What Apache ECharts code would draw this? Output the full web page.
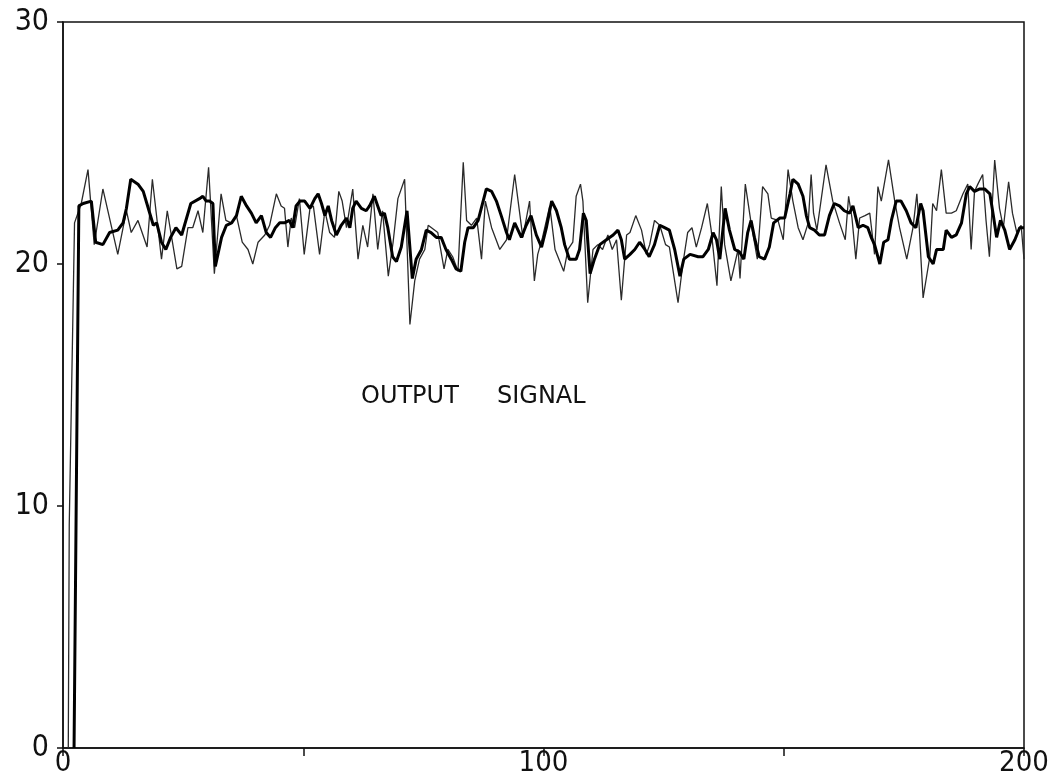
<!DOCTYPE html>
<html>
<head>
<meta charset="utf-8">
<title>Output signal</title>
<script src="https://cdn.jsdelivr.net/npm/echarts@6.0.0/dist/echarts.min.js"></script>
<style>
  html, body { margin: 0; padding: 0; background: #fff; }
  #chart { width: 1063px; height: 774px; }
</style>
</head>
<body>
<div id="chart"></div>
<script>
// thin (noisy) trace
const thinX = [1.1, 1.3, 2.4, 3.8, 5.2, 6.5, 8.3, 11.4, 13.2, 14.2, 15.6, 17.5, 18.6, 20.5, 21.7, 23.7, 24.7, 26.0, 27.0, 28.1, 29.1,
  30.3, 31.5, 32.9, 33.9, 35.0, 36.1, 37.3, 38.5, 39.5, 40.6, 42.0, 43.0, 44.4, 45.4, 46.1, 46.8, 47.5, 48.2, 49.2, 50.2,
  51.4, 52.1, 53.4, 54.5, 55.5, 56.5, 57.4, 58.1, 59.0, 60.3, 61.4, 62.4, 63.4, 64.5, 65.5, 66.5, 67.7, 68.7, 69.7, 71.1,
  72.2, 73.2, 74.2, 75.3, 76.0, 78.0, 79.3, 80.1, 81.1, 82.2, 83.3, 84.0, 85.0, 86.1, 87.1, 87.9, 89.2, 90.9, 92.3, 94.0,
  95.7, 97.1, 98.1, 98.8, 99.8, 101.3, 102.4, 104.2, 105.1, 106.1, 106.8, 107.7, 108.2, 109.2, 110.3, 111.3, 112.3, 113.4, 114.3, 115.2,
  116.2, 117.3, 118.0, 119.2, 120.4, 121.4, 122.1, 123.1, 124.2, 125.4, 126.2, 128.0, 129.0, 130.0, 130.9, 131.8, 132.9, 134.1, 134.9, 136.1,
  137.0, 137.7, 139.0, 140.5, 140.9, 142.0, 143.2, 144.5, 145.6, 146.7, 147.4, 148.8, 149.9, 150.9, 151.9, 153.0, 154.0, 155.1, 155.7, 156.2,
  156.9, 158.8, 160.2, 161.6, 162.8, 163.5, 164.2, 165.0, 165.8, 166.9, 167.9, 168.9, 169.6, 170.3, 171.8, 173.1, 174.1, 175.6, 176.9, 177.7,
  178.2, 179.0, 180.4, 181.0, 181.8, 182.8, 183.8, 184.9, 185.9, 187.3, 188.3, 189.0, 189.7, 190.4, 191.4, 192.1, 192.8, 193.9, 194.9, 195.7,
  196.8, 197.6, 198.5, 199.4, 200];
const thinY = [0, 9.2, 21.7, 22.5, 23.9, 20.8, 23.1, 20.4, 22.2, 21.3, 21.8, 20.7, 23.5, 20.2, 22.2, 19.8, 19.9, 21.5, 21.5, 22.2, 21.3,
  24.0, 19.6, 22.9, 21.8, 21.7, 22.0, 20.9, 20.6, 20.0, 20.9, 21.2, 21.6, 22.9, 22.4, 22.3, 20.7, 21.9, 21.5, 22.7, 20.4,
  22.3, 22.4, 20.4, 22.2, 21.3, 21.1, 23.0, 22.6, 21.5, 23.1, 20.2, 21.6, 20.7, 22.9, 20.6, 22.2, 19.5, 20.9, 22.7, 23.5,
  17.5, 19.3, 20.2, 20.6, 21.6, 21.3, 19.8, 20.6, 20.3, 19.7, 24.2, 21.8, 21.6, 21.9, 20.2, 22.6, 21.5, 20.6, 21.0, 23.7,
  21.1, 22.6, 19.3, 20.4, 21.1, 22.4, 20.6, 19.7, 20.6, 20.9, 22.8, 23.3, 22.6, 18.4, 20.6, 20.8, 20.6, 21.2, 20.6, 21.0,
  18.5, 21.2, 21.3, 22.0, 21.4, 20.4, 20.8, 21.8, 21.6, 20.8, 20.7, 18.4, 20.0, 21.3, 21.5, 20.7, 21.5, 22.5, 21.4, 19.1,
  23.2, 20.8, 19.3, 20.6, 19.4, 23.3, 21.7, 20.2, 23.2, 22.9, 21.9, 21.8, 21.0, 23.9, 22.6, 21.5, 21.0, 21.7, 23.7, 22.1,
  21.4, 24.1, 22.6, 21.7, 21.0, 22.8, 21.9, 20.2, 21.9, 22.0, 22.1, 20.4, 23.2, 22.6, 24.3, 22.6, 21.5, 20.2, 21.5, 22.9,
  21.5, 18.6, 20.3, 22.5, 22.2, 23.9, 22.1, 22.1, 22.2, 22.9, 23.3, 20.6, 23.0, 23.3, 23.7, 21.8, 20.3, 24.3, 22.3, 21.5,
  23.4, 22.1, 21.3, 21.6, 20.2];

// thick (smoother) trace
const thickX = [2.3, 3.3, 4.2, 5.9, 6.8, 8.3, 9.7, 11.4, 12.5, 13.2, 14.1, 15.6, 16.7, 17.9, 18.8, 19.5, 20.5, 21.4, 22.4, 23.5,
  24.7, 26.6, 28.4, 29.1, 29.8, 30.5, 31.2, 31.7, 33.0, 34.0, 35.1, 36.1, 37.1, 38.2, 39.2, 40.2, 41.3, 42.3, 43.2, 44.2,
  45.1, 46.1, 47.1, 47.8, 48.5, 49.3, 50.3, 51.4, 52.4, 53.1, 53.8, 54.5, 55.2, 55.9, 56.9, 57.9, 59.0, 59.7, 60.3, 61.0,
  62.1, 63.1, 63.8, 64.8, 65.5, 66.2, 66.9, 67.6, 68.6, 69.4, 70.4, 71.6, 72.7, 73.5, 74.6, 75.6, 76.6, 77.7, 78.7, 79.7,
  80.8, 81.8, 82.8, 83.6, 84.3, 85.4, 86.4, 88.1, 89.2, 90.2, 91.2, 92.3, 92.9, 94.0, 95.4, 96.4, 97.4, 98.5, 99.6, 100.6,
  101.7, 102.7, 103.7, 104.4, 105.4, 106.8, 107.5, 108.3, 108.9, 109.7, 110.6, 111.7, 113.1, 114.5, 115.5, 116.2, 116.9, 118.0, 119.0, 120.0,
  121.1, 122.0, 123.1, 124.2, 125.2, 126.2, 127.3, 128.4, 129.2, 130.5, 132.2, 133.2, 134.3, 135.3, 136.0, 136.7, 137.8, 138.7, 139.8, 140.8,
  141.7, 142.5, 143.2, 143.9, 144.9, 146.0, 147.0, 147.9, 149.2, 150.2, 151.3, 151.9, 153.0, 154.0, 154.7, 155.4, 156.4, 157.4, 158.5, 159.5,
  160.5, 161.6, 162.6, 163.7, 164.4, 165.5, 166.5, 167.5, 168.2, 168.9, 170.0, 170.8, 171.7, 172.4, 173.4, 174.4, 175.5, 176.5, 177.5, 178.5,
  179.0, 180.1, 181.1, 181.8, 182.5, 183.2, 183.8, 184.9, 185.9, 187.0, 188.0, 188.7, 189.7, 190.8, 191.8, 192.9, 193.7, 194.3, 195.1, 196.0,
  197.0, 198.1, 199.1, 200];
const thickY = [0, 22.4, 22.5, 22.6, 20.9, 20.8, 21.3, 21.4, 21.7, 22.3, 23.5, 23.3, 23.0, 22.2, 21.6, 21.7, 20.9, 20.6, 21.1, 21.5,
  21.2, 22.5, 22.7, 22.8, 22.6, 22.6, 22.5, 19.9, 21.1, 21.6, 21.7, 22.0, 22.8, 22.4, 22.1, 21.7, 22.0, 21.3, 21.1, 21.5,
  21.7, 21.7, 21.8, 21.5, 22.4, 22.6, 22.6, 22.3, 22.7, 22.9, 22.5, 22.0, 22.4, 21.8, 21.2, 21.6, 21.9, 21.5, 22.3, 22.6,
  22.3, 22.2, 22.4, 22.8, 22.4, 22.0, 22.1, 21.5, 20.3, 20.1, 20.7, 22.2, 19.4, 20.2, 20.6, 21.4, 21.3, 21.1, 21.1, 20.6,
  20.2, 19.8, 19.7, 20.9, 21.5, 21.5, 21.8, 23.1, 23.0, 22.6, 22.0, 21.3, 21.0, 21.7, 21.1, 21.6, 22.0, 21.2, 20.7, 21.5,
  22.6, 22.2, 21.5, 20.8, 20.2, 20.2, 20.6, 22.1, 21.8, 19.6, 20.2, 20.8, 21.0, 21.2, 21.4, 21.0, 20.2, 20.4, 20.6, 20.9,
  20.6, 20.3, 20.8, 21.6, 21.5, 21.4, 20.6, 19.5, 20.2, 20.4, 20.3, 20.3, 20.6, 21.3, 21.0, 20.2, 22.3, 21.4, 20.6, 20.5,
  20.2, 21.3, 21.8, 21.1, 20.3, 20.2, 20.7, 21.7, 21.9, 21.9, 22.9, 23.5, 23.3, 22.8, 22.0, 21.5, 21.4, 21.2, 21.2, 22.0,
  22.5, 22.4, 22.2, 22.1, 22.4, 21.5, 21.6, 21.5, 21.1, 20.8, 20.0, 20.9, 21.0, 21.8, 22.6, 22.6, 22.2, 21.7, 21.5, 22.5,
  22.2, 20.3, 20.0, 20.6, 20.6, 20.6, 21.4, 21.1, 21.2, 21.7, 22.9, 23.2, 23.0, 23.1, 23.1, 22.9, 21.9, 21.1, 21.8, 21.4,
  20.6, 21.0, 21.5, 21.5];

const xLabels = [0, 100, 200];
const noteWords = ['OUTPUT', 'SIGNAL'];

const tickFont = '"DejaVu Sans Condensed", "DejaVu Sans", sans-serif';
const noteFont = '24px "DejaVu Sans", sans-serif';

const chart = echarts.init(document.getElementById('chart'));

const option = {
  animation: false,
  backgroundColor: '#fff',
  grid: {
    left: 63,
    right: 39,
    top: 22,
    bottom: 26,
    containLabel: false,
    outerBoundsMode: 'none',
    show: true,
    borderColor: '#111',
    borderWidth: 1.5
  },
  xAxis: {
    type: 'value',
    min: 0,
    max: 200,
    interval: 50,
    splitLine: { show: false },
    axisLine: { show: true, onZero: false, lineStyle: { color: '#111', width: 1.5 } },
    axisTick: { show: true, inside: false, length: 8, lineStyle: { color: '#111', width: 1.5 } },
    axisLabel: {
      margin: 1,
      color: '#111',
      fontSize: 29,
      fontFamily: tickFont,
      formatter: v => (xLabels.indexOf(v) >= 0 ? String(v) : '')
    }
  },
  yAxis: {
    type: 'value',
    min: 0,
    max: 30,
    interval: 10,
    splitLine: { show: false },
    axisLine: { show: true, onZero: false, lineStyle: { color: '#111', width: 1.5 } },
    axisTick: { show: true, inside: false, length: 6, lineStyle: { color: '#111', width: 1.5 } },
    axisLabel: {
      margin: 14,
      color: '#111',
      fontSize: 30,
      fontFamily: tickFont
    }
  },
  graphic: [
    {
      type: 'text',
      left: 361,
      top: 385,
      style: { text: noteWords[0], fill: '#111', font: noteFont }
    },
    {
      type: 'text',
      left: 497,
      top: 385,
      style: { text: noteWords[1], fill: '#111', font: noteFont }
    }
  ],
  series: [
    {
      name: 'thin',
      type: 'line',
      symbol: 'none',
      smooth: false,
      lineStyle: { color: '#2a2a2a', width: 1.3 },
      data: thinX.map((x, i) => [x, thinY[i]]),
      z: 2
    },
    {
      name: 'thick',
      type: 'line',
      symbol: 'none',
      smooth: false,
      lineStyle: { color: '#000', width: 3 },
      data: thickX.map((x, i) => [x, thickY[i]]),
      z: 3
    }
  ]
};

chart.setOption(option);
</script>
</body>
</html>
